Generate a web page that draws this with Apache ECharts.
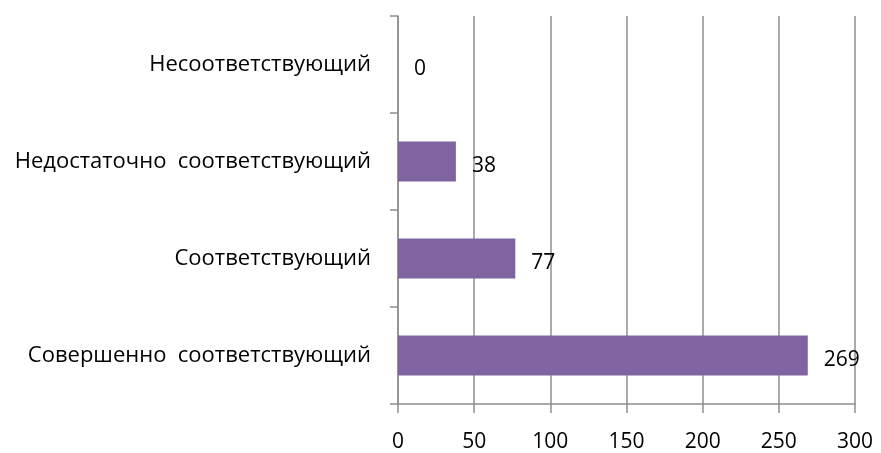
<!DOCTYPE html>
<html>
<head>
<meta charset="utf-8">
<script src="https://cdn.jsdelivr.net/npm/echarts@6/dist/echarts.min.js"></script>
<style>
  html, body { margin: 0; padding: 0; background: #fff; }
  #chart { width: 881px; height: 453px; }
</style>
</head>
<body>
<div id="chart"></div>
<script>
// categories listed bottom to top
const categories = [
  "Совершенно  соответствующий",
  "Соответствующий",
  "Недостаточно  соответствующий",
  "Несоответствующий"
];
const values = [269, 77, 38, 0];
const xTicks = [0, 50, 100, 150, 200, 250, 300];

const gray = "#8f8f8f";
const font = "'Open Sans', 'Noto Sans', sans-serif";

const chart = echarts.init(document.getElementById("chart"));
chart.setOption({
  animation: false,
  grid: { left: 398, right: 26, top: 16, bottom: 49 },
  xAxis: {
    type: "value",
    min: xTicks[0],
    max: xTicks[xTicks.length - 1],
    interval: 50,
    axisLine: { show: true, lineStyle: { color: gray, width: 1.5 } },
    axisTick: { show: true, length: 9, lineStyle: { color: gray, width: 1.5 } },
    splitLine: { show: true, lineStyle: { color: gray, width: 1.5 } },
    axisLabel: { color: "#000", fontSize: 21, fontFamily: font, margin: 28 }
  },
  yAxis: {
    type: "category",
    data: categories,
    axisLine: { show: true, lineStyle: { color: gray, width: 1.5 } },
    axisTick: { show: true, length: 8, lineStyle: { color: gray, width: 1.5 } },
    splitLine: { show: false },
    axisLabel: { color: "#000", fontSize: 22, fontFamily: font, margin: 27, padding: [5, 0, 0, 0] }
  },
  series: [
    {
      type: "bar",
      data: values,
      barWidth: "41%",
      itemStyle: { color: "#8064a2" },
      label: {
        show: true,
        position: "right",
        distance: 16,
        color: "#000",
        fontSize: 21,
        fontFamily: font,
        offset: [0, 5]
      }
    }
  ]
});
</script>
</body>
</html>
